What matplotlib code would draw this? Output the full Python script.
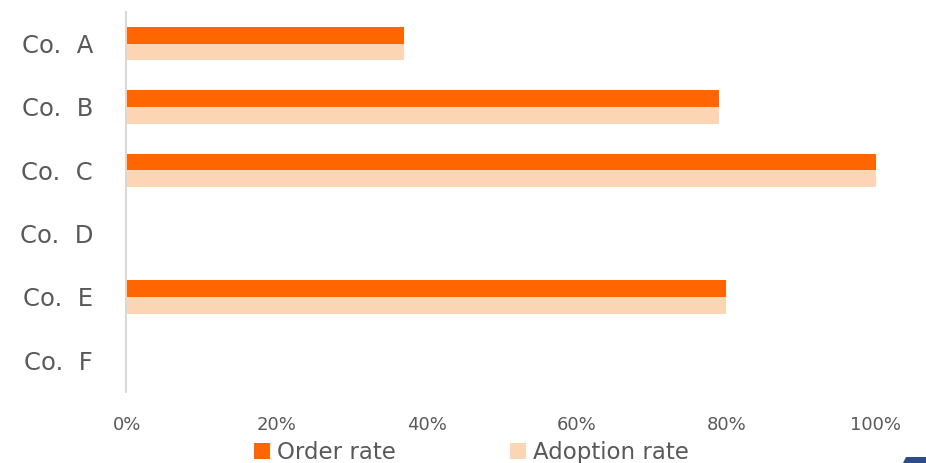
import matplotlib
matplotlib.use("Agg")
import matplotlib.pyplot as plt
from matplotlib.patches import Polygon, Patch
from matplotlib.ticker import PercentFormatter

categories = ["Co.  A", "Co.  B", "Co.  C", "Co.  D", "Co.  E", "Co.  F"]
order_rate = [0.37, 0.79, 1.00, 0.0, 0.80, 0.0]
adoption_rate = [0.37, 0.79, 1.00, 0.0, 0.80, 0.0]
xticks = [0, 0.2, 0.4, 0.6, 0.8, 1.0]

orange = "#FF6600"
peach = "#FCD5B5"
txt = "#595959"

fig = plt.figure(figsize=(9.26, 4.63), dpi=100)
ax = fig.add_axes([127/926, (463-392)/463, (876-127)/926, (392-12)/463])

h = 0.265
ys = list(range(len(categories)))
ax.barh([y - h/2 for y in ys], order_rate, height=h, color=orange, edgecolor="none", zorder=3)
ax.barh([y + h/2 for y in ys], adoption_rate, height=h, color=peach, edgecolor="none", zorder=3)

ax.set_ylim(len(categories) - 0.5, -0.5)
ax.set_xlim(0, 1.0)
ax.set_yticks(ys)
ax.set_yticklabels(categories)
ax.set_xticks(xticks)
ax.xaxis.set_major_formatter(PercentFormatter(1.0, decimals=0))
ax.tick_params(axis="x", length=0, pad=17, labelsize=13, labelcolor=txt)
ax.tick_params(axis="y", length=0, pad=24, labelsize=17.5, labelcolor=txt)
for lab in ax.get_yticklabels():
    lab.set_verticalalignment("center")

for s in ["top", "right", "bottom"]:
    ax.spines[s].set_visible(False)
ax.spines["left"].set_color("#D9D9D9")
ax.spines["left"].set_linewidth(1.5)
ax.spines["left"].set_position(("data", -0.001))

handles = [Patch(facecolor=orange, edgecolor="none", label="Order rate"),
           Patch(facecolor=peach, edgecolor="none", label="Adoption rate")]
leg = fig.legend(handles=handles, loc="center", bbox_to_anchor=(0.509, 0.022), ncol=2,
                 frameon=False, fontsize=16.5, handlelength=0.7, handleheight=0.7,
                 handletextpad=0.3, columnspacing=5.0, borderaxespad=0, borderpad=0)
for t in leg.get_texts():
    t.set_color(txt)

poly = Polygon([[903/926, 0], [906/926, 6/463], [926/926, 6/463], [926/926, 0]],
               closed=True, transform=fig.transFigure, facecolor="#2E4C8C", edgecolor="none")
fig.patches.append(poly)

fig.savefig("out.png", dpi=100, facecolor="white")
